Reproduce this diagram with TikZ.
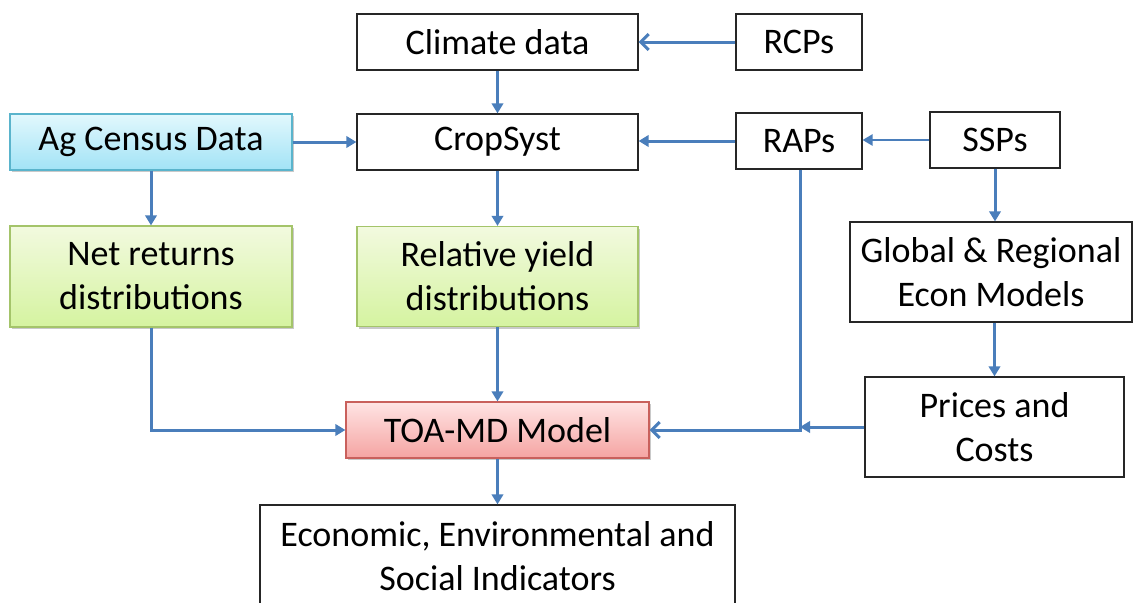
\documentclass[tikz,border=0pt]{standalone}
\usepackage{fontspec}
\setmainfont{Carlito}
\usetikzlibrary{arrows.meta,shadows}
\definecolor{arrowc}{HTML}{4A7EBB}
\definecolor{bluetop}{HTML}{E2F8FD}
\definecolor{bluebot}{HTML}{A2E3F6}
\definecolor{blueline}{HTML}{5AB4CC}
\definecolor{greentop}{HTML}{F2FADF}
\definecolor{greenbot}{HTML}{D5F3A0}
\definecolor{greenline}{HTML}{A4C46A}
\definecolor{redtop}{HTML}{FFE4E4}
\definecolor{redbot}{HTML}{F5A4A2}
\definecolor{redline}{HTML}{C9605C}
\begin{document}
\begin{tikzpicture}[x=0.75pt,y=-0.75pt,
  box/.style={draw=black!85, line width=0.9pt, fill=white, align=center, inner sep=0pt,
    font=\fontsize{27}{33}\selectfont},
  shad/.style={drop shadow={shadow xshift=1.8pt, shadow yshift=-1.8pt, opacity=0.35, fill=black!60}},
  bluebox/.style={box, draw=blueline, top color=bluetop, bottom color=bluebot, shad},
  greenbox/.style={box, draw=greenline, top color=greentop, bottom color=greenbot, shad},
  redbox/.style={box, draw=redline, top color=redtop, bottom color=redbot, shad},
  conn/.style={draw=arrowc, line width=2.25pt, -{Triangle[width=8.5pt,length=7.5pt]}},
  thinconn/.style={draw=arrowc, line width=1.2pt, -{Triangle[width=8.5pt,length=7.5pt]}},
  openconn/.style={draw=arrowc, line width=2.25pt, -{Straight Barb[width=12pt,length=6pt]}},
]
\clip (0,0) rectangle (1133,603);
\fill[white] (0,0) rectangle (1133,603);

\node[box, minimum width=210.75pt, minimum height=42pt] (climate) at (497.5,42) {Climate data};
\node[box, minimum width=94.5pt, minimum height=42pt] (rcps) at (799,42) {RCPs};
\node[bluebox, minimum width=211.5pt, minimum height=42pt] (ag) at (151,142) {Ag Census Data};
\node[box, minimum width=210.75pt, minimum height=42pt] (crop) at (497.5,142) {CropSyst};
\node[box, minimum width=94.5pt, minimum height=42pt] (raps) at (799,141) {RAPs};
\node[box, minimum width=97.5pt, minimum height=42pt] (ssps) at (995,140) {SSPs};
\node[greenbox, minimum width=211.5pt, minimum height=75.75pt] (net) at (151,276.5) {Net returns\\distributions};
\node[greenbox, minimum width=210.75pt, minimum height=75pt] (rel) at (497.5,276.5) {Relative yield\\distributions};
\node[box, minimum width=211.5pt, minimum height=75pt] (global) at (991,272) {Global \& Regional\\Econ Models};
\node[box, minimum width=194.25pt, minimum height=75pt] (prices) at (994.5,427) {Prices and\\Costs};
\node[redbox, minimum width=227.25pt, minimum height=42pt] (toa) at (497.5,430) {TOA-MD Model};
\node[box, minimum width=356.25pt, minimum height=76.5pt] (econ) at (497.5,556) {Economic, Environmental and\\Social Indicators};

\coordinate (j) at (800,430);

\draw[openconn] (rcps) -- (climate);
\draw[conn] (climate) -- (crop);
\draw[conn] (ag) -- (crop);
\draw[conn] (raps.west) -- (raps.west -| crop.east);
\draw[thinconn] (ssps.west) -- (ssps.west -| raps.east);
\draw[conn] (ag) -- (net);
\draw[conn] (crop) -- (rel);
\draw[conn] (ssps.south) -- (ssps.south |- global.north);
\draw[conn] (global.south -| prices.north) -- (prices.north);
\draw[conn] (rel) -- (toa);
\draw[conn] (net.south) |- (toa.west);
\draw[conn] (toa) -- (econ);
\draw[openconn] (raps.south -| j) -- (j) -- (toa.east);
\draw[conn] (prices.west) -- (prices.west -| j);
\end{tikzpicture}
\end{document}
